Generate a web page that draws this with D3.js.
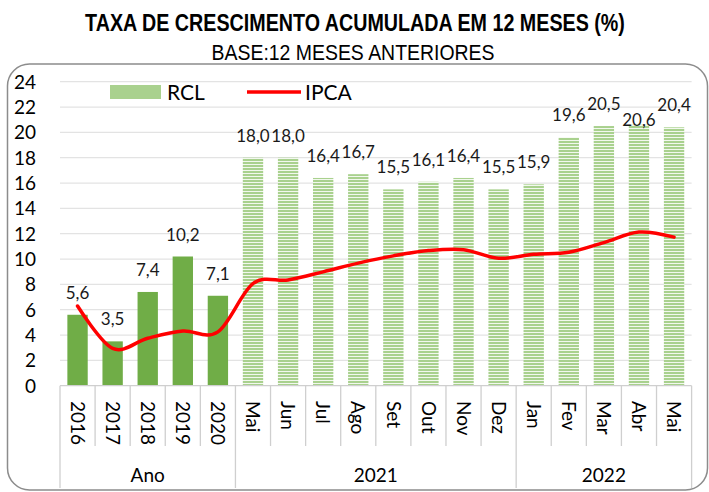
<!DOCTYPE html>
<html>
<head>
<meta charset="utf-8">
<script src="https://cdn.jsdelivr.net/npm/d3@7"></script>
<style>
  body { margin: 0; background: #fff; }
  svg { display: block; }
</style>
</head>
<body>
<svg id="chart" width="709" height="492"></svg>
<script>
// categories and values
var months = ["2016", "2017", "2018", "2019", "2020", "Mai", "Jun", "Jul", "Ago", "Set", "Out", "Nov", "Dez", "Jan", "Fev", "Mar", "Abr", "Mai"];
var rcl = [5.6, 3.5, 7.4, 10.2, 7.1, 18.0, 18.0, 16.4, 16.7, 15.5, 16.1, 16.4, 15.5, 15.9, 19.6, 20.5, 20.6, 20.4];
var ipca = [6.29, 2.95, 3.75, 4.31, 4.25, 8.06, 8.35, 8.99, 9.68, 10.25, 10.67, 10.74, 10.06, 10.38, 10.54, 11.30, 12.13, 11.73];
var groups = [{ name: "Ano", from: 0, to: 4 }, { name: "2021", from: 5, to: 12 }, { name: "2022", from: 13, to: 17 }];
var yTicks = [0, 2, 4, 6, 8, 10, 12, 14, 16, 18, 20, 22, 24];

var svg = d3.select("#chart");
var font = "Lato, 'Open Sans', sans-serif";
var narrow = "'Liberation Sans Narrow', 'Arial Narrow', 'Liberation Sans', sans-serif";

// pattern for the monthly bars
var defs = svg.append("defs");
var pat = defs.append("pattern")
  .attr("id", "stripes")
  .attr("patternUnits", "userSpaceOnUse")
  .attr("width", 8).attr("height", 3);
pat.append("rect").attr("width", 8).attr("height", 3).attr("fill", "#f2f8ee");
pat.append("rect").attr("width", 8).attr("height", 2).attr("fill", "#a9d18e");

// titles: narrow look done by squeezing a normal sans to the width seen in the picture
function squeezed(txt, cxPos, baseY, size, weight, width) {
  var g = svg.append("g");
  var t = g.append("text")
    .attr("text-anchor", "middle")
    .attr("font-family", narrow).attr("font-weight", weight).attr("font-size", size)
    .attr("fill", "#000")
    .text(txt);
  var w = t.node().getComputedTextLength();
  var k = Math.min(1, width / w);
  g.attr("transform", "translate(" + cxPos + "," + baseY + ") scale(" + k + ",1)");
}
squeezed("TAXA DE CRESCIMENTO ACUMULADA EM 12 MESES (%)", 355, 31, 23, "bold", 540);
squeezed("BASE:12 MESES ANTERIORES", 353, 60, 22, "normal", 283);

// frame
svg.append("rect")
  .attr("x", 7.5).attr("y", 64).attr("width", 700).attr("height", 426)
  .attr("rx", 22).attr("ry", 22)
  .attr("fill", "none").attr("stroke", "#8c8c8c").attr("stroke-width", 1.5);

var x = d3.scaleBand()
  .domain(d3.range(months.length))
  .range([60, 691.6])
  .paddingInner(0.42)
  .paddingOuter(0.21);

var y = d3.scaleLinear().domain([0, 24]).range([385.7, 81.7]);
var step = x.step();
var cx = function(i) { return x(i) + x.bandwidth() / 2; };

// gridlines
svg.append("g").selectAll("line")
  .data(yTicks.slice(1))
  .enter().append("line")
  .attr("x1", 60).attr("x2", 691.6)
  .attr("y1", function(d) { return y(d); }).attr("y2", function(d) { return y(d); })
  .attr("stroke", "#e3e3e3").attr("stroke-width", 1.3);

// y labels
svg.append("g").selectAll("text")
  .data(yTicks)
  .enter().append("text")
  .attr("x", 36).attr("y", function(d) { return y(d); })
  .attr("dy", "0.36em")
  .attr("text-anchor", "end")
  .attr("font-family", font).attr("font-size", 19)
  .attr("fill", "#000")
  .text(function(d) { return d; });

// bars
svg.append("g").selectAll("rect")
  .data(rcl)
  .enter().append("rect")
  .attr("x", function(d, i) { return x(i); })
  .attr("width", x.bandwidth())
  .attr("y", function(d) { return y(d); })
  .attr("height", function(d) { return y(0) - y(d); })
  .attr("fill", function(d, i) { return i < 5 ? "#70ad47" : "url(#stripes)"; });

// category axis
var axis = svg.append("g");
axis.append("line")
  .attr("x1", 60).attr("x2", 691.6).attr("y1", y(0)).attr("y2", y(0))
  .attr("stroke", "#cfcfcf").attr("stroke-width", 1.3);

var bounds = d3.range(months.length + 1);
var groupEdges = [0];
groups.forEach(function(g) { groupEdges.push(g.to + 1); });
axis.selectAll("line.tick")
  .data(bounds)
  .enter().append("line")
  .attr("class", "tick")
  .attr("x1", function(d) { return 60 + d * step; })
  .attr("x2", function(d) { return 60 + d * step; })
  .attr("y1", y(0))
  .attr("y2", function(d) { return groupEdges.indexOf(d) >= 0 ? 488 : 446; })
  .attr("stroke", "#cfcfcf").attr("stroke-width", 1.3);

axis.selectAll("text.month")
  .data(months)
  .enter().append("text")
  .attr("class", "month")
  .attr("transform", function(d, i) { return "translate(" + cx(i) + ",401) rotate(90)"; })
  .attr("dy", "0.36em")
  .attr("font-family", font).attr("font-size", 19)
  .attr("fill", "#000")
  .text(function(d) { return d; });

axis.selectAll("text.group")
  .data(groups)
  .enter().append("text")
  .attr("class", "group")
  .attr("x", function(g) { return 60 + (g.from + g.to + 1) / 2 * step; })
  .attr("y", 482)
  .attr("text-anchor", "middle")
  .attr("font-family", font).attr("font-size", 19)
  .attr("fill", "#000")
  .text(function(g) { return g.name; });

// IPCA line
var line = d3.line()
  .x(function(d, i) { return cx(i); })
  .y(function(d) { return y(d); })
  .curve(d3.curveCardinal.tension(0));
svg.append("path")
  .datum(ipca)
  .attr("d", line)
  .attr("fill", "none")
  .attr("stroke", "#ff0000")
  .attr("stroke-width", 3.5)
  .attr("stroke-linecap", "round");

// data labels (Abr 2022 label sits lower, as in the original)
svg.append("g").selectAll("text")
  .data(rcl)
  .enter().append("text")
  .attr("x", function(d, i) { return cx(i); })
  .attr("y", function(d, i) { return y(d) - (i === 16 ? -1 : 16); })
  .attr("text-anchor", "middle")
  .attr("font-family", font).attr("font-size", 17)
  .attr("fill", "#1a1a1a")
  .text(function(d) { return d.toFixed(1).replace(".", ","); });

// legend
var lg = svg.append("g");
lg.append("rect").attr("x", 110).attr("y", 85).attr("width", 51).attr("height", 14).attr("fill", "#a9d18e");
lg.append("text").attr("x", 167).attr("y", 99.5)
  .attr("font-family", font).attr("font-size", 21).attr("fill", "#000").text("RCL");
lg.append("line").attr("x1", 247).attr("x2", 301).attr("y1", 92).attr("y2", 92)
  .attr("stroke", "#ff0000").attr("stroke-width", 3.5);
lg.append("text").attr("x", 305).attr("y", 99.5)
  .attr("font-family", font).attr("font-size", 21).attr("fill", "#000").text("IPCA");
</script>
</body>
</html>
